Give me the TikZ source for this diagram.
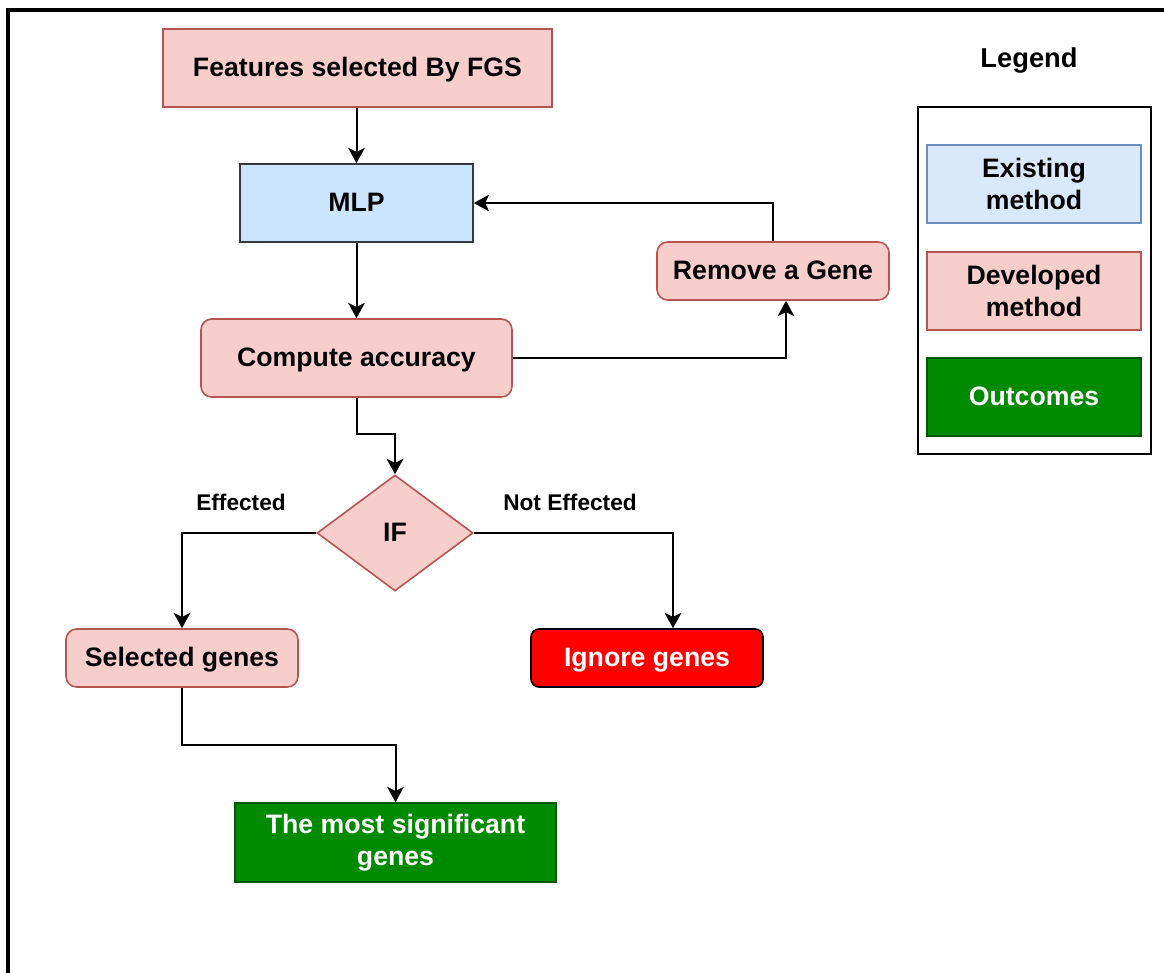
\documentclass[tikz,border=0pt]{standalone}
\usepackage{fontspec}
\setmainfont{Liberation Sans}
\usetikzlibrary{arrows.meta,shapes.geometric,calc}
\definecolor{pinkfill}{HTML}{F8CECC}
\definecolor{pinkline}{HTML}{B85450}
\definecolor{mlpfill}{HTML}{CCE5FF}
\definecolor{mlpline}{HTML}{36393D}
\definecolor{bluefill}{HTML}{DAE8FC}
\definecolor{blueline}{HTML}{6C8EBF}
\definecolor{greenfill}{HTML}{008A00}
\definecolor{greenline}{HTML}{005700}
\definecolor{redfill}{HTML}{FF0000}
\begin{document}
\begin{tikzpicture}[x=0.75pt,y=-0.75pt,
  wh/.style 2 args={minimum width=#1*0.75pt, minimum height=#2*0.75pt},
  box/.style={draw, line width=1.2pt, inner sep=0pt, align=center,
    font=\fontsize{20}{24}\selectfont\bfseries},
  oneline/.style={text height=14.6pt, text depth=1.6pt},
  devbox/.style={box, fill=pinkfill, draw=pinkline},
  roundbox/.style={rounded corners=8pt},
  mlpbox/.style={box, fill=mlpfill, draw=mlpline},
  existbox/.style={box, fill=bluefill, draw=blueline},
  outbox/.style={box, fill=greenfill, draw=greenline, text=white},
  ignbox/.style={box, fill=redfill, draw=black, text=white, rounded corners=6pt},
  lbl/.style={font=\fontsize{17}{20}\selectfont\bfseries, inner sep=0pt},
  conn/.style={line width=1.5pt, -{Stealth[length=11.5pt, width=12.5pt, inset=3pt]}},
]
\useasboundingbox (0,0) rectangle (1164,972);
\clip (0,0) rectangle (1164,972);

% outer frame (open to the right and bottom)
\draw[line width=2.3pt] (8,980) -- (8,10) -- (1170,10);

% main flow
\node[devbox, oneline, wh={389}{78}] (feat) at (357.5,68) {Features selected By FGS};
\node[mlpbox, oneline, wh={233}{78}] (mlp) at (356.5,203) {MLP};
\node[devbox, oneline, roundbox, wh={311}{78}] (comp) at (356.5,358) {Compute accuracy};
\node[devbox, oneline, roundbox, wh={232}{58}] (rem) at (773,271) {Remove a Gene};
\node[devbox, oneline, diamond, wh={156}{116}] (if) at (395,533) {IF};
\node[devbox, oneline, roundbox, wh={232}{58}] (sel) at (182,658) {Selected genes};
\node[ignbox, oneline, wh={232}{58}] (ign) at (647,658) {Ignore genes};
\node[outbox, wh={321}{79}] (sig) at (395.5,842.5) {The most significant\\genes};

% branch labels
\node[lbl] (eff) at (241,502) {Effected};
\node[lbl] (neff) at (570,502) {Not Effected};

% connectors
\draw[conn] (mlp.north |- feat.south) -- (mlp.north);
\draw[conn] (mlp.south) -- (comp.north);
\draw[conn] (comp.east) -| ($(rem.south)+(13,0)$);
\draw[conn] (rem.north) |- (mlp.east);
\draw[conn] (comp.south) |- ($(if.north)+(0,-40)$) -- (if.north);
\draw[conn] (if.west) -| (sel.north);
\draw[conn] (if.east) -| ($(ign.north)+(26,0)$);
\draw[conn] (sel.south) |- ($(sig.north)+(0,-57)$) -- (sig.north);

% legend
\node[font=\fontsize{20.5}{24}\selectfont\bfseries, inner sep=0pt] (legtitle) at (1029,60) {Legend};
\node[draw=black, line width=1.3pt, wh={233}{347}, inner sep=0pt] (legbox) at (1034.5,280.5) {};
\node[existbox, wh={214}{78}] (lexist) at (1034,184) {Existing\\method};
\node[devbox, wh={214}{78}] (ldev) at (1034,291) {Developed\\method};
\node[outbox, oneline, wh={214}{78}] (lout) at (1034,397) {Outcomes};
\end{tikzpicture}
\end{document}
